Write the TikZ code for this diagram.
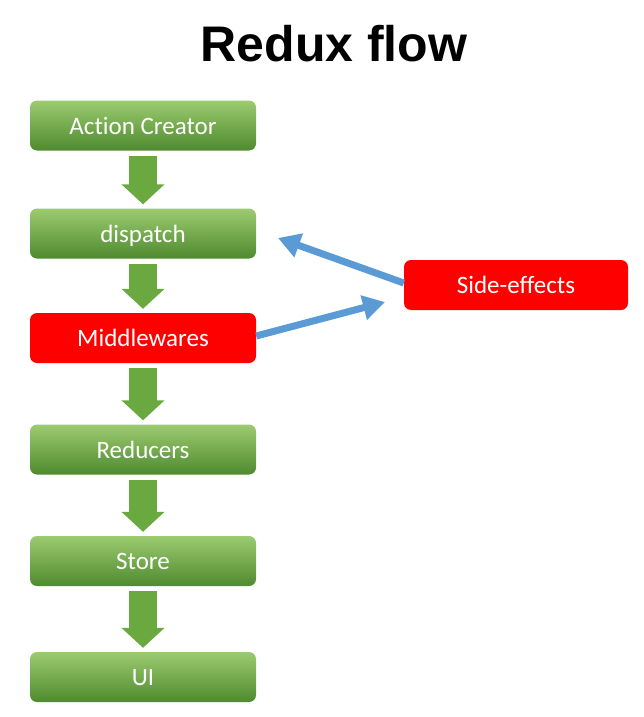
\documentclass[tikz,border=0pt]{standalone}
\usepackage{fontspec}
\setmainfont[Ligatures=NoCommon]{Carlito}
\newfontfamily\titlefont{Liberation Sans}
\usetikzlibrary{arrows.meta}
\definecolor{gtop}{HTML}{9CCB70}
\definecolor{gbot}{HTML}{4F8A2F}
\definecolor{garrow}{HTML}{6AA840}
\definecolor{sered}{HTML}{FF0000}
\definecolor{seblue}{HTML}{5B9BD5}
\tikzset{
  boxtext/.style={text=white, inner sep=0pt, text height=19pt, text depth=2pt,
    font=\fontsize{25}{28}\selectfont},
  gbox/.style={boxtext, rounded corners=7pt, minimum width=226pt, minimum height=50pt,
    top color=gtop, bottom color=gbot},
  rbox/.style={boxtext, rounded corners=7pt, minimum height=50pt, fill=sered},
  flow/.style={draw=garrow, line width=28pt,
    -{Triangle[width=42pt,length=20pt]}, shorten <=5pt, shorten >=4pt},
  side/.style={draw=seblue, line width=7pt,
    -{Triangle[width=24pt,length=22pt]}}
}
\begin{document}
\begin{tikzpicture}[x=1pt,y=-1pt]
\useasboundingbox (0,0) rectangle (643,717);
\node[font=\titlefont\bfseries\fontsize{50}{56}\selectfont, anchor=base] (title) at (334,62) {Redux flow};
\node[gbox] (ac) at (143,125.5) {Action Creator};
\node[gbox] (disp) at (143,233.5) {dispatch};
\node[rbox, minimum width=226pt] (mw) at (143,338) {Middlewares};
\node[gbox] (red) at (143,449.5) {Reducers};
\node[gbox] (store) at (143,561) {Store};
\node[gbox] (ui) at (143,677) {UI};
\node[rbox, minimum width=224pt] (se) at (516,285) {Side-effects};
\draw[flow] (ac.south) -- (disp.north);
\draw[flow] (disp.south) -- (mw.north);
\draw[flow] (mw.south) -- (red.north);
\draw[flow] (red.south) -- (store.north);
\draw[flow] (store.south) -- (ui.north);
\coordinate (tipa) at (278,238);
\coordinate (tipb) at (385,302);
\draw[side] ([yshift=2pt]se.west) -- (tipa);
\draw[side] ([yshift=2pt]mw.east) -- (tipb);
\end{tikzpicture}
\end{document}
